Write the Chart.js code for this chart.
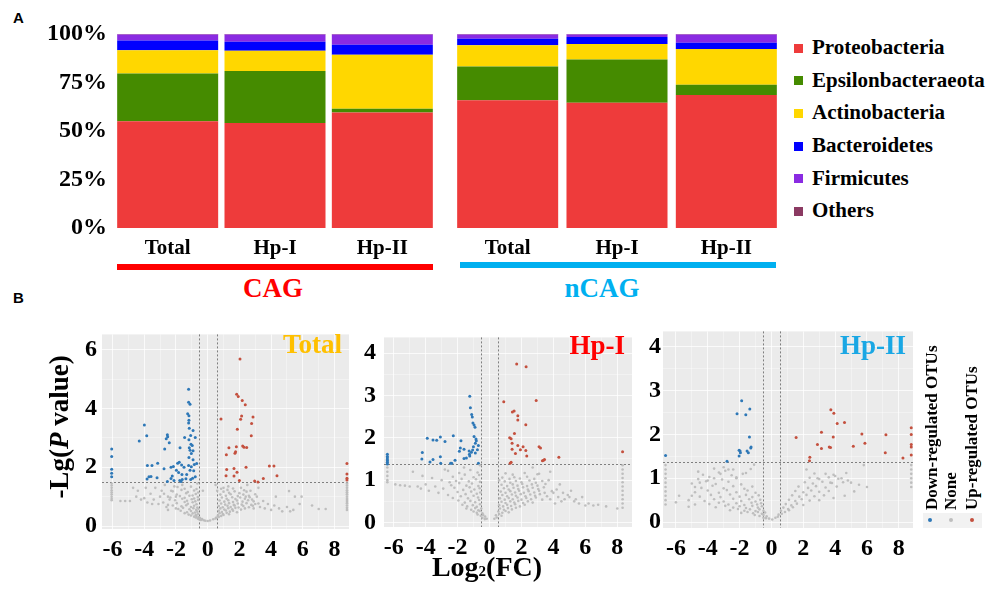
<!DOCTYPE html>
<html lang="en">
<head>
<meta charset="UTF-8" />
<title>Phyla composition and volcano plots</title>
<script src="https://cdn.jsdelivr.net/npm/chart.js"></script>
<style>
  body { margin: 0; width: 991px; height: 599px; position: relative; overflow: hidden; background: #fff; }
  canvas { position: absolute; }
  .t { position: absolute; font-family: 'Liberation Serif', 'Times New Roman', serif; font-weight: bold; line-height: 1; white-space: nowrap; color: #000; }
  .tag { position: absolute; font-family: 'Liberation Sans', Arial, sans-serif; font-weight: bold; font-size: 15px; line-height: 1; }
  .sq { position: absolute; width: 9px; height: 9px; }
  .bar { position: absolute; height: 6px; }
  .rot { transform-origin: 0 0; transform: rotate(-90deg); }
  .dot { position: absolute; width: 4px; height: 4px; border-radius: 50%; }
</style>
</head>
<body>
<div class="tag" style="left:13px;top:10px">A</div>
<div class="tag" style="left:13px;top:290px">B</div>

<canvas id="cag" width="440" height="262" style="left:0;top:0"></canvas>
<canvas id="ncag" width="332" height="262" style="left:453px;top:0"></canvas>
<div id="legendA"></div>

<div class="bar" style="left:117px;top:264px;width:316px;background:#FF0000"></div>
<div class="bar" style="left:460px;top:262px;width:316px;background:#00B0F0"></div>
<div class="t" style="left:173px;width:200px;text-align:center;top:275px;font-size:27px;color:#FF0000">CAG</div>
<div class="t" style="left:502px;width:200px;text-align:center;top:275px;font-size:27px;color:#00B0F0">nCAG</div>

<canvas id="v0" width="295" height="255" style="left:60px;top:315px"></canvas>
<canvas id="v1" width="297" height="255" style="left:340px;top:315px"></canvas>
<canvas id="v2" width="298" height="255" style="left:620px;top:315px"></canvas>

<div class="t" style="left:142px;width:200px;text-align:right;top:331px;font-size:27px;color:#FFC000">Total</div>
<div class="t" style="left:425px;width:200px;text-align:right;top:332px;font-size:27px;color:#FF0000">Hp-I</div>
<div class="t" style="left:706px;width:200px;text-align:right;top:332px;font-size:27px;color:#1AA7E4">Hp-II</div>

<div class="t rot" style="left:46px;top:577px;width:300px;text-align:center;font-size:27px">-Lg(<i>P</i> value)</div>
<div class="t" style="left:387px;width:200px;text-align:center;top:553px;font-size:28px">Log<span style="font-size:15px">2</span>(FC)</div>

<div style="position:absolute;left:923px;top:513px;width:59px;height:15px;background:#F2F2F2"></div>
<div class="t rot" style="left:923px;top:510px;font-size:17px">Down-regulated OTUs</div>
<div class="t rot" style="left:942px;top:510px;font-size:17px">None</div>
<div class="t rot" style="left:963px;top:510px;font-size:17px">Up-regulated OTUs</div>
<div class="dot" style="left:928px;top:518px;background:#2E78B7"></div>
<div class="dot" style="left:949px;top:518px;background:#BEBEBE"></div>
<div class="dot" style="left:970px;top:518px;background:#C4503E"></div>

<script>
// panel A: relative abundance (%), columns Total, Hp-I, Hp-II
const sites = ['Total', 'Hp-I', 'Hp-II'];
const phyla = ['Proteobacteria', 'Epsilonbacteraeota', 'Actinobacteria', 'Bacteroidetes', 'Firmicutes', 'Others'];
const phylaColors = ['#EE3B3B', '#458B00', '#FFD700', '#0000FF', '#8A2BE2', '#8B3A62'];
const cagShares = [
  [55.0, 54.1, 59.6],
  [24.6, 26.8, 1.9],
  [12.0, 10.5, 27.8],
  [5.0, 4.6, 5.2],
  [3.2, 3.7, 5.3],
  [0.2, 0.3, 0.2]
];
const ncagShares = [
  [65.8, 64.6, 68.6],
  [17.4, 22.2, 5.3],
  [11.0, 8.0, 18.4],
  [3.4, 3.7, 3.2],
  [2.2, 1.3, 4.3],
  [0.2, 0.2, 0.2]
];

// panel B: volcano points [log2FC, -lg P]
const totalDown = [[-1.20,4.65],[-1.20,4.21],[-1.11,4.14],[-1.26,3.82],[-1.18,3.75],[-1.18,3.60],[-1.20,3.51],[-3.99,3.44],[-3.84,3.07],[-4.31,2.89],[-2.54,3.11],[-2.52,3.04],[-2.61,2.97],[-2.42,2.83],[-1.16,3.33],[-0.92,3.25],[-1.07,3.08],[-0.78,3.01],[-1.45,3.01],[-1.18,2.94],[-2.71,2.62],[-1.74,2.66],[-1.05,2.78],[-0.97,2.74],[-1.16,2.66],[-1.11,2.58],[-0.92,2.56],[-1.03,2.47],[-1.18,2.33],[-0.92,2.26],[-6.05,2.62],[-6.05,2.37],[-6.05,1.93],[-6.05,1.80],[-6.05,1.68],[-3.80,2.06],[-3.51,2.06],[-3.15,2.14],[-2.75,1.95],[-2.31,2.00],[-2.16,2.03],[-1.89,2.14],[-1.79,2.17],[-1.64,2.08],[-1.49,2.00],[-1.20,2.06],[-1.03,2.02],[-0.84,2.09],[-0.69,2.13],[-1.97,1.90],[-1.83,1.82],[-2.23,1.70],[-1.62,1.75],[-1.32,1.75],[-1.11,1.90],[-0.88,1.88],[-0.78,1.68],[-3.70,1.68],[-3.57,1.69],[-3.82,1.60],[-3.19,1.64],[-2.54,1.52],[-2.12,1.55],[-1.76,1.55],[-1.60,1.58],[-1.37,1.61],[-1.07,1.58],[-0.95,1.63],[-1.68,1.52],[-2.31,1.62]];
const totalUp = [[2.04,5.68],[1.83,4.48],[1.93,4.41],[2.18,4.27],[2.37,4.13],[0.84,3.64],[2.14,3.74],[2.08,3.63],[2.86,3.71],[2.77,3.49],[1.87,3.29],[2.75,3.07],[1.34,2.66],[1.81,2.70],[2.21,2.72],[2.29,2.68],[2.46,2.67],[1.76,2.53],[1.72,2.48],[1.18,2.43],[1.20,1.92],[1.66,1.96],[2.42,2.00],[3.89,2.04],[4.18,2.04],[1.85,1.83],[1.16,1.71],[1.66,1.70],[4.37,1.71],[3.51,1.62],[2.00,1.55],[2.96,1.53],[3.17,1.50],[8.78,2.13],[8.78,1.77],[8.78,1.63],[8.78,1.57]];
const totalNone = [[-6.05,1.45],[-6.05,1.38],[-6.05,1.30],[-6.05,1.22],[-6.05,1.15],[-6.05,1.08],[-6.05,1.00],[-6.05,0.93],[-6.05,0.88],[8.78,1.45],[8.78,1.38],[8.78,1.30],[8.78,1.22],[8.78,1.15],[8.78,1.08],[8.78,1.00],[8.78,0.92],[8.78,0.85],[8.78,0.78],[8.78,0.70],[8.78,0.62],[8.78,0.55],[-5.5,0.85],[-5.2,0.85],[-4.9,0.85],[-4.7,1.30],[-4.5,1.0],[-4.2,0.9],[-4.0,0.95],[-3.8,0.8],[-3.6,1.1],[-3.4,0.9],[-3.3,1.3],[-3.1,0.75],[-3.0,1.0],[-2.9,1.2],[-2.8,0.8],[-2.7,1.4],[-2.6,0.65],[-2.5,1.0],[-2.5,0.55],[-2.4,0.9],[-2.3,1.2],[-2.2,0.7],[-2.1,1.35],[-2.0,0.6],[-2.0,1.0],[-1.6,1.4],[-0.65,1.45],[0.6,1.2],[2.1,1.3],[2.4,1.0],[2.7,1.2],[2.8,0.9],[2.9,0.6],[3.0,0.75],[3.1,1.0],[3.3,0.65],[3.5,0.85],[3.6,0.6],[3.8,0.75],[4.0,0.55],[4.2,0.7],[4.3,1.0],[4.5,0.6],[4.7,0.5],[5.0,0.65],[5.13,1.19],[5.2,0.5],[5.4,0.55],[5.5,1.0],[5.8,0.75],[5.92,1.0],[6.58,0.7],[7.0,0.58],[7.44,0.58],[1.3,1.35],[2.5,1.4],[3.2,1.3],[1.0,1.3],[-0.3,1.2],[0.5,1.4],[-4.4,1.2],[-3.9,1.3],[-3.5,0.75],[-2.75,1.1]];
const totalNoneCore = [[-1.9,1.33],[-1.45,1.27],[-1.05,1.34],[-0.7,1.26],[-2.2,1.18],[-1.65,1.23],[-1.25,1.16],[-0.85,1.21],[-0.6,1.14],[-1.95,1.07],[-1.35,1.12],[-0.95,1.04],[-0.75,1.09],[-2.35,0.97],[-1.75,1.02],[-1.45,0.96],[-1.15,1.03],[-0.85,0.94],[-0.62,0.99],[-2.05,0.88],[-1.6,0.93],[-1.3,0.86],[-1.0,0.91],[-0.78,0.84],[-0.6,0.89],[-1.95,0.78],[-1.45,0.82],[-1.25,0.76],[-0.95,0.81],[-0.7,0.74],[-2.5,0.72],[-1.65,0.67],[-1.35,0.71],[-1.05,0.65],[-0.85,0.69],[-0.65,0.63],[-1.85,0.58],[-1.55,0.62],[-1.15,0.57],[-0.9,0.61],[-0.72,0.55],[-0.58,0.59],[-1.7,0.52],[-1.3,0.47],[-1.05,0.51],[-0.8,0.46],[-0.65,0.49],[-1.45,0.44],[-1.2,0.39],[-0.95,0.43],[-0.75,0.38],[-0.6,0.41],[-1.05,0.36],[-0.85,0.32],[-0.7,0.34],[-0.55,0.31],[-0.75,0.29],[-0.62,0.26],[-0.48,0.27],[-0.35,0.24],[-0.55,0.23],[-0.42,0.21],[-0.25,0.2],[-0.15,0.18],[0.0,0.17],[0.15,0.19],[0.35,0.23],[0.5,0.26],[0.7,0.31],[0.55,0.29],[0.65,0.37],[0.85,0.34],[1.0,0.38],[0.75,0.44],[0.95,0.41],[1.2,0.45],[1.35,0.4],[0.7,0.52],[0.9,0.48],[1.15,0.53],[1.4,0.49],[1.6,0.52],[1.85,0.47],[0.8,0.6],[1.05,0.56],[1.3,0.61],[1.55,0.57],[1.75,0.62],[2.1,0.56],[2.35,0.6],[0.7,0.68],[0.95,0.64],[1.25,0.69],[1.45,0.65],[1.7,0.7],[1.95,0.63],[2.25,0.68],[2.6,0.64],[2.85,0.69],[0.85,0.77],[1.1,0.73],[1.35,0.78],[1.65,0.72],[1.9,0.77],[2.15,0.73],[2.45,0.78],[2.75,0.72],[3.2,0.77],[0.75,0.87],[1.05,0.83],[1.3,0.88],[1.6,0.82],[1.85,0.87],[2.2,0.83],[2.55,0.88],[2.9,0.84],[0.9,0.97],[1.2,0.93],[1.55,0.98],[1.75,0.92],[2.05,0.97],[2.35,0.93],[2.65,0.98],[0.8,1.07],[1.15,1.03],[1.45,1.08],[1.9,1.02],[2.25,1.07],[2.6,1.03],[3.0,1.08],[1.0,1.17],[1.35,1.13],[1.7,1.18],[2.0,1.12],[2.45,1.17],[0.85,1.27],[1.25,1.23],[1.6,1.28],[2.3,1.22]];

const hp1Down = [[-1.24,2.98],[-1.20,2.71],[-1.12,2.55],[-1.08,2.49],[-1.04,2.35],[-0.97,2.30],[-0.91,2.25],[-0.97,2.03],[-0.85,1.97],[-0.83,1.93],[-3.90,1.99],[-3.54,1.95],[-3.31,1.94],[-3.08,2.02],[-2.79,1.91],[-2.27,2.05],[-1.79,1.93],[-0.89,1.87],[-0.70,1.82],[-1.01,1.79],[-1.83,1.76],[-1.60,1.73],[-1.28,1.69],[-0.76,1.72],[-1.89,1.68],[-1.14,1.66],[-1.06,1.71],[-0.89,1.64],[-4.21,1.65],[-4.24,1.50],[-3.54,1.49],[-3.08,1.55],[-3.73,1.43],[-3.06,1.40],[-2.16,1.47],[-2.37,1.40],[-1.60,1.51],[-1.45,1.52],[-1.24,1.57],[-1.26,1.61],[-2.44,1.40],[-0.70,1.40],[-6.40,1.61],[-6.40,1.56],[-6.40,1.52],[-6.40,1.48],[-6.40,1.46],[-6.40,1.42],[-6.40,1.38]];
const hp1Up = [[1.70,3.74],[2.29,3.68],[0.89,2.85],[2.92,2.88],[1.43,2.61],[1.54,2.63],[1.77,2.52],[1.77,2.42],[2.27,2.31],[1.56,2.10],[1.26,2.00],[1.35,1.98],[1.41,1.87],[1.77,1.82],[2.10,1.79],[3.10,1.79],[3.19,1.76],[1.41,1.73],[1.93,1.72],[2.27,1.70],[1.62,1.63],[2.33,1.57],[4.34,1.54],[3.44,1.49],[3.31,1.46],[3.38,1.47],[1.35,1.42],[1.29,1.40],[8.33,1.67]];
const hp1None = [[-6.40,1.30],[-6.40,1.20],[-6.40,1.10],[-6.40,1.00],[-6.40,0.95],[8.33,1.35],[8.33,1.25],[8.33,1.15],[8.33,1.05],[8.33,0.95],[8.33,0.85],[8.33,0.75],[8.33,0.65],[8.33,0.55],[8.33,0.45],[8.33,0.35],[-5.9,0.9],[-5.6,0.88],[-5.3,0.87],[-5.0,0.85],[-4.8,1.2],[-4.5,0.85],[-4.3,0.8],[-4.2,1.1],[-4.0,0.9],[-3.8,0.75],[-3.6,1.05],[-3.4,0.85],[-3.2,0.7],[-3.0,1.0],[-2.9,0.8],[-2.8,1.25],[-2.6,0.65],[-2.5,0.95],[-1.6,1.3],[-0.6,1.35],[0.6,1.0],[2.7,1.3],[3.1,1.15],[3.7,1.0],[3.8,1.2],[3.8,0.55],[4.0,0.7],[4.1,0.45],[4.3,0.6],[4.5,0.5],[4.7,0.55],[5.0,0.6],[5.3,0.5],[5.6,0.45],[6.0,0.4],[6.5,0.4],[7.3,0.38],[8.0,0.33],[4.6,0.7],[4.9,0.65],[5.1,0.75],[5.4,0.55],[5.8,0.6],[6.2,0.45],[6.8,0.42],[4.4,0.9]];
const hp1NoneCore = [[-2.6,1.22],[-1.9,1.17],[-1.2,1.24],[-0.75,1.18],[-2.3,1.08],[-1.55,1.13],[-1.0,1.07],[-0.65,1.12],[-2.1,0.98],[-1.75,1.03],[-1.3,0.97],[-0.85,1.02],[-0.6,0.96],[-2.4,0.88],[-1.9,0.93],[-1.45,0.87],[-1.1,0.92],[-0.7,0.86],[-2.2,0.82],[-1.65,0.77],[-1.25,0.83],[-0.95,0.78],[-0.62,0.81],[-2.0,0.72],[-1.5,0.67],[-1.15,0.73],[-0.8,0.68],[-0.58,0.71],[-2.3,0.58],[-1.8,0.62],[-1.35,0.57],[-1.0,0.63],[-0.72,0.59],[-1.95,0.52],[-1.55,0.47],[-1.2,0.51],[-0.9,0.48],[-0.65,0.53],[-1.7,0.42],[-1.4,0.38],[-1.05,0.41],[-0.8,0.37],[-0.6,0.43],[-1.45,0.33],[-1.15,0.3],[-0.9,0.34],[-0.7,0.29],[-0.52,0.33],[-1.0,0.26],[-0.8,0.23],[-0.62,0.27],[-0.45,0.22],[-0.75,0.19],[-0.55,0.16],[-0.4,0.18],[-0.28,0.14],[-0.45,0.11],[-0.3,0.08],[-0.18,0.09],[0.3,0.09],[0.45,0.12],[0.4,0.17],[0.6,0.2],[0.75,0.16],[0.55,0.26],[0.8,0.23],[1.0,0.27],[1.2,0.24],[0.65,0.33],[0.9,0.3],[1.15,0.34],[1.4,0.31],[1.65,0.35],[0.6,0.41],[0.85,0.38],[1.1,0.42],[1.35,0.39],[1.6,0.43],[1.9,0.38],[2.2,0.42],[0.75,0.49],[1.0,0.46],[1.3,0.5],[1.55,0.47],[1.8,0.51],[2.1,0.46],[2.4,0.5],[2.7,0.47],[0.65,0.57],[0.95,0.54],[1.2,0.58],[1.45,0.55],[1.75,0.59],[2.0,0.54],[2.3,0.58],[2.6,0.55],[2.9,0.59],[3.3,0.54],[0.8,0.65],[1.1,0.62],[1.4,0.66],[1.65,0.63],[1.95,0.67],[2.25,0.62],[2.55,0.66],[2.85,0.63],[3.15,0.67],[3.6,0.62],[0.7,0.73],[1.0,0.7],[1.3,0.74],[1.6,0.71],[1.85,0.75],[2.15,0.7],[2.45,0.74],[2.8,0.71],[3.1,0.75],[3.45,0.7],[3.9,0.74],[0.9,0.81],[1.2,0.78],[1.5,0.82],[1.8,0.79],[2.1,0.83],[2.4,0.78],[2.7,0.82],[3.05,0.79],[3.4,0.83],[4.2,0.78],[0.75,0.89],[1.1,0.86],[1.45,0.9],[1.75,0.87],[2.05,0.91],[2.35,0.86],[2.65,0.9],[3.0,0.87],[3.5,0.91],[0.95,0.97],[1.3,0.94],[1.65,0.98],[2.0,0.95],[2.5,0.99],[2.9,0.94],[3.3,0.98],[0.8,1.06],[1.25,1.03],[1.55,1.07],[1.9,1.04],[2.35,1.08],[2.8,1.03],[1.0,1.16],[1.45,1.13],[2.2,1.17],[3.0,1.14]];

const hp2Down = [[-1.87,2.77],[-2.16,2.47],[-1.61,2.45],[-1.36,2.58],[-1.38,1.94],[-2.03,1.64],[-1.97,1.62],[-1.95,1.58],[-1.53,1.62],[-1.45,1.58],[-1.30,1.69],[-1.28,1.71],[-2.03,1.51],[-2.79,1.39],[-6.65,1.52]];
const hp2Up = [[3.73,2.56],[3.92,2.48],[4.13,2.25],[4.59,2.27],[3.14,2.05],[1.55,1.93],[3.88,1.94],[5.68,2.01],[7.19,1.99],[2.89,1.77],[5.87,1.80],[3.14,1.68],[3.63,1.71],[3.71,1.70],[5.14,1.73],[7.15,1.58],[2.41,1.48],[2.39,1.40],[8.26,1.46],[8.78,2.15],[8.78,2.00],[8.78,1.77],[8.78,1.71],[8.78,1.53]];
const hp2None = [[-6.65,1.30],[-6.65,1.20],[-6.65,1.10],[-6.65,1.00],[-6.65,0.90],[-6.65,0.80],[-6.65,0.70],[-6.65,0.60],[-6.65,0.50],[-6.65,0.40],[8.78,1.30],[8.78,1.20],[8.78,1.10],[8.78,1.00],[8.78,0.90],[8.78,0.80],[-5.2,0.5],[-5.2,0.35],[-5.0,0.6],[-4.8,0.8],[-4.5,0.9],[-4.0,0.95],[-3.6,1.0],[-3.2,1.1],[-2.7,1.2],[-2.2,1.0],[-1.8,1.1],[-1.09,1.31],[-2.4,1.2],[-3.0,1.25],[-4.8,0.4],[-4.6,1.15],[-5.8,0.6],[-6.0,0.45],[2.2,1.2],[3.4,1.1],[4.0,1.05],[4.4,1.0],[4.6,0.6],[4.8,0.95],[5.0,0.9],[5.2,0.7],[5.5,0.85],[5.8,1.3],[6.0,0.8],[2.9,1.0],[3.7,0.9],[3.0,0.5],[3.9,0.55]];
const hp2NoneCore = [[-3.6,1.22],[-2.9,1.17],[-1.3,1.21],[-4.3,1.08],[-3.3,1.13],[-2.5,1.07],[-1.6,1.12],[-4.6,0.98],[-3.9,1.03],[-3.1,0.97],[-2.2,1.02],[-5.0,0.88],[-4.1,0.93],[-3.5,0.87],[-2.7,0.92],[-1.9,0.86],[-4.4,0.78],[-3.7,0.83],[-3.0,0.77],[-2.4,0.82],[-1.7,0.76],[-1.2,0.81],[-4.8,0.68],[-4.0,0.72],[-3.3,0.67],[-2.8,0.73],[-2.2,0.68],[-1.5,0.72],[-1.0,0.67],[-4.5,0.58],[-3.8,0.62],[-3.2,0.57],[-2.6,0.63],[-2.0,0.58],[-1.6,0.62],[-1.2,0.57],[-0.8,0.61],[-4.2,0.48],[-3.6,0.52],[-3.0,0.47],[-2.4,0.53],[-1.9,0.48],[-1.4,0.52],[-1.0,0.47],[-0.7,0.51],[-3.9,0.41],[-3.3,0.44],[-2.7,0.4],[-2.2,0.43],[-1.7,0.39],[-1.25,0.44],[-0.9,0.4],[-0.65,0.43],[-3.5,0.34],[-2.9,0.37],[-2.4,0.33],[-2.0,0.36],[-1.6,0.32],[-1.2,0.37],[-0.85,0.33],[-0.6,0.36],[-2.6,0.27],[-2.1,0.3],[-1.7,0.26],[-1.35,0.29],[-1.0,0.25],[-0.75,0.29],[-0.5,0.26],[-1.9,0.21],[-1.5,0.23],[-1.15,0.2],[-0.85,0.23],[-0.6,0.19],[-0.4,0.22],[-1.05,0.16],[-0.75,0.14],[-0.5,0.16],[-0.3,0.13],[-0.5,0.1],[-0.35,0.09],[-0.15,0.08],[0.05,0.06],[0.25,0.1],[0.4,0.12],[0.45,0.17],[0.65,0.19],[0.6,0.26],[0.85,0.23],[1.1,0.27],[0.75,0.33],[1.05,0.3],[1.35,0.34],[0.9,0.41],[1.25,0.38],[1.6,0.42],[2.0,0.39],[1.1,0.51],[1.5,0.48],[1.9,0.52],[2.4,0.49],[1.3,0.61],[1.75,0.58],[2.2,0.62],[2.7,0.59],[3.3,0.61],[1.5,0.71],[2.0,0.68],[2.5,0.72],[3.0,0.69],[3.6,0.71],[1.7,0.81],[2.3,0.78],[2.8,0.82],[3.4,0.79],[4.1,0.81],[2.1,0.91],[2.6,0.88],[3.2,0.92],[3.8,0.89],[4.5,0.91],[2.4,1.01],[3.0,0.98],[3.6,1.02],[4.2,0.99],[2.7,1.11],[3.9,1.08],[4.7,1.12]];

// thresholds as drawn: |log2FC| and -lg P
const fcCut = [0.57, 0.55, 0.545];
const pCut = [1.49, 1.38, 1.38];

const serif = "'Liberation Serif', 'Times New Roman', serif";
const isInt = v => Math.abs(v - Math.round(v)) < 1e-6;

// legend of panel A
const legendA = document.getElementById('legendA');
const legendY = [48, 80.5, 113, 146, 178.5, 211];
phyla.forEach((p, i) => {
  legendA.innerHTML += `<div class="sq" style="left:794px;top:${legendY[i] - 4.5}px;background:${phylaColors[i]}"></div>` +
    `<div class="t" style="left:812px;top:${legendY[i] - 10.6}px;font-size:21px">${p}</div>`;
});

function barChart(id, shares, showY, barPct) {
  return new Chart(document.getElementById(id), {
    type: 'bar',
    data: {
      labels: sites,
      datasets: phyla.map((p, i) => ({ label: p, data: shares[i], backgroundColor: phylaColors[i], borderWidth: 0, barPercentage: barPct, categoryPercentage: 1 }))
    },
    options: {
      responsive: false, animation: false,
      layout: { padding: { top: 34, right: 4 } },
      plugins: { legend: { display: false }, tooltip: { enabled: false } },
      scales: {
        x: { stacked: true, grid: { display: false }, border: { display: false },
             ticks: { color: '#000', font: { family: serif, weight: 'bold', size: 21 }, padding: 0 },
             afterFit: s => { s.height = 34; } },
        y: { stacked: true, display: showY, min: 0, max: 100, grid: { display: false, drawTicks: false }, border: { display: false },
             ticks: { stepSize: 25, callback: v => v + '%', color: '#000', font: { family: serif, weight: 'bold', size: 24 }, padding: 7 },
             afterFit: s => { if (showY) s.width = 114; } }
      }
    }
  });
}
barChart('cag', cagShares, true, 0.941);
barChart('ncag', ncagShares, false, 0.924);

// grey ggplot-like panel + dashed cut lines
const panelPlugin = {
  id: 'panel',
  beforeDraw(chart) {
    const a = chart.chartArea, c = chart.ctx;
    c.save(); c.fillStyle = '#EBEBEB'; c.fillRect(a.left, a.top, a.width, a.height); c.restore();
  },
  beforeDatasetsDraw(chart, args, opts) {
    const a = chart.chartArea, c = chart.ctx, x = chart.scales.x, y = chart.scales.y;
    c.save();
    c.strokeStyle = '#7F7F7F'; c.lineWidth = 1; c.setLineDash([2, 2]);
    [-opts.fc, opts.fc].forEach(v => {
      const px = Math.round(x.getPixelForValue(v)) + 0.5;
      c.beginPath(); c.moveTo(px, a.top); c.lineTo(px, a.bottom); c.stroke();
    });
    const py = Math.round(y.getPixelForValue(opts.p)) + 0.5;
    c.beginPath(); c.moveTo(a.left, py); c.lineTo(a.right, py); c.stroke();
    c.restore();
  }
};

const toXY = arr => arr.map(p => ({ x: p[0], y: p[1] }));

function volcano(id, none, down, up, k, cfg) {
  const tickFont = { family: serif, weight: 'bold', size: 24 };
  return new Chart(document.getElementById(id), {
    type: 'scatter',
    data: { datasets: [
      { data: toXY(none), backgroundColor: 'rgba(188,188,188,0.95)', pointRadius: 1.3, borderWidth: 0 },
      { data: toXY(down), backgroundColor: '#2E78B7', pointRadius: 1.5, borderWidth: 0 },
      { data: toXY(up), backgroundColor: '#C4503E', pointRadius: 1.5, borderWidth: 0 }
    ] },
    options: {
      responsive: false, animation: false,
      layout: { padding: { top: cfg.padTop, right: cfg.padRight, left: 0, bottom: 0 } },
      plugins: { legend: { display: false }, tooltip: { enabled: false }, panel: { fc: fcCut[k], p: pCut[k] } },
      scales: {
        x: { type: 'linear', min: cfg.x[0], max: cfg.x[1], border: { display: false },
             grid: { drawTicks: false, color: 'rgba(255,255,255,0.75)', lineWidth: c => isInt(c.tick.value / 2) ? 1 : 0.5 },
             ticks: { stepSize: 1, includeBounds: false, autoSkip: false, maxRotation: 0, color: '#000', font: tickFont, padding: 6,
                      callback: v => isInt(v / 2) ? String(Math.round(v)) : '' },
             afterFit: s => { s.height = cfg.xh; } },
        y: { type: 'linear', min: cfg.y[0], max: cfg.y[1], border: { display: false },
             grid: { drawTicks: false, color: 'rgba(255,255,255,0.75)', lineWidth: c => isInt(c.tick.value / cfg.yMajor) ? 1 : 0.5 },
             ticks: { stepSize: cfg.yMajor / 2, includeBounds: false, autoSkip: false, color: '#000', font: tickFont, padding: cfg.yPad,
                      callback: v => isInt(v / cfg.yMajor) ? String(Math.round(v)) : '' },
             afterFit: s => { s.width = cfg.yw; } }
      }
    },
    plugins: [panelPlugin]
  });
}

volcano('v0', totalNone.concat(totalNoneCore), totalDown, totalUp, 0, { x: [-6.66, 8.91], y: [-0.1, 6.52], yMajor: 2, padTop: 14, padRight: 6, xh: 41, yw: 42, yPad: 5 });
volcano('v1', hp1None.concat(hp1NoneCore), hp1Down, hp1Up, 1, { x: [-6.61, 8.92], y: [-0.106, 4.37], yMajor: 1, padTop: 13, padRight: 5, xh: 43, yw: 44, yPad: 8 });
volcano('v2', hp2None.concat(hp2NoneCore), hp2Down, hp2Up, 2, { x: [-6.81, 8.89], y: [-0.135, 4.35], yMajor: 1, padTop: 14, padRight: 5, xh: 42, yw: 43, yPad: 2 });
</script>
</body>
</html>
